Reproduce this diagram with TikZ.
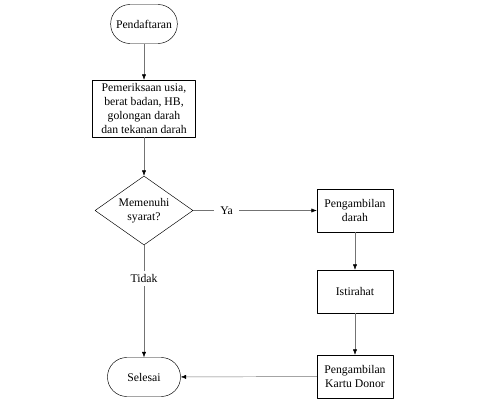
\documentclass[tikz,border=0pt]{standalone}
\usepackage{fontspec}
\setmainfont{Liberation Serif}
\usetikzlibrary{shapes.geometric,arrows.meta}
\begin{document}
\begin{tikzpicture}[x=0.03cm,y=-0.03cm,line join=round,
	font=\fontsize{10}{11.7}\selectfont,
	>={Latex[length=4.5pt,width=3.5pt,black]},
	terminal/.style={draw,rectangle,rounded corners=0.58cm,minimum height=1.17cm,align=center},
	proses/.style={draw,rectangle,minimum width=2.28cm,minimum height=1.29cm,align=center,inner sep=2pt},
	keputusan/.style={draw,diamond,aspect=1.4,minimum width=2.94cm,minimum height=2.07cm,inner sep=0pt,align=center},
	alur/.style={draw=black!55,thin},
	label/.style={fill=white,inner xsep=5pt,inner ysep=3pt}]
	\useasboundingbox (0,0) rectangle (479,405);
	% kolom kiri
	\node[terminal,minimum width=2.0cm] (pendaftaran) at (144,24) {Pendaftaran};
	\node[proses,minimum width=3.09cm,minimum height=1.71cm] (periksa) at (144,108.5) {Pemeriksaan usia,\\berat badan, HB,\\golongan darah\\dan tekanan darah};
	\node[keputusan] (syarat) at (144,210.5) {Memenuhi\\syarat?};
	\node[terminal,minimum width=2.19cm] (selesai) at (144,377) {Selesai};
	% kolom kanan
	\node[proses] (ambil) at (355,210.5) {Pengambilan\\darah};
	\node[proses] (istirahat) at (355,291.5) {Istirahat};
	\node[proses] (kartu) at (355,376.5) {Pengambilan\\Kartu Donor};
	% alur
	\draw[alur,->] (pendaftaran)--(periksa);
	\draw[alur,->] (periksa)--(syarat);
	\draw[alur,->] (syarat)--node[label,pos=0.27]{Ya}(ambil);
	\draw[alur,->] (syarat)--node[label,pos=0.3]{Tidak}(selesai);
	\draw[alur,->] (ambil)--(istirahat);
	\draw[alur,->] (istirahat)--(kartu);
	\draw[alur,->] (kartu)--(selesai);
\end{tikzpicture}
\end{document}
